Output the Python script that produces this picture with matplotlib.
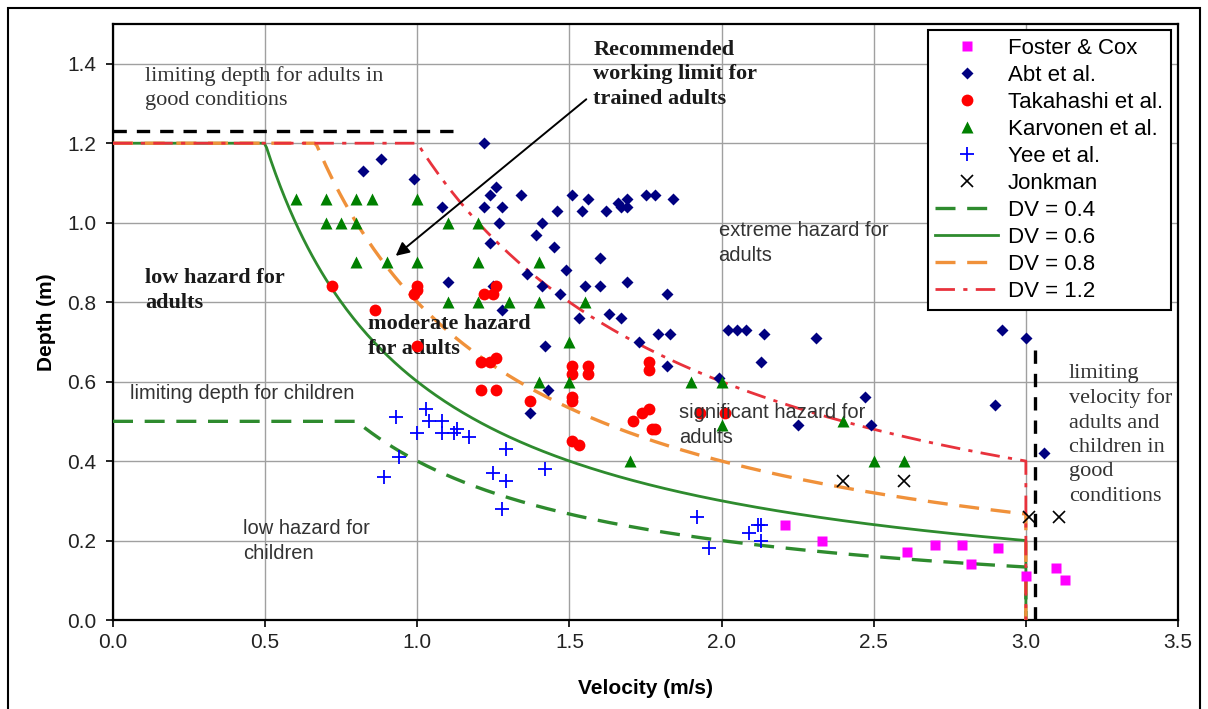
import numpy as np
import matplotlib.pyplot as plt
from matplotlib.patches import Rectangle

# --- data ---
foster_v = [2.21, 2.33, 2.61, 2.70, 2.79, 2.82, 2.91, 3.00, 3.10, 3.13]
foster_d = [0.24, 0.20, 0.17, 0.19, 0.19, 0.14, 0.18, 0.11, 0.13, 0.10]

abt_v = [1.22, 0.88, 0.82, 0.99, 1.26, 1.24, 1.34, 1.08, 1.22, 1.28, 1.27, 1.41,
         1.39, 1.24, 1.10, 1.25, 1.36, 1.41, 1.28, 1.51, 1.56, 1.46, 1.54, 1.62,
         1.69, 1.67, 1.69, 1.66, 1.75, 1.78, 1.84, 1.45, 1.60, 1.49, 1.55, 1.60,
         1.69, 1.82, 1.47, 1.53, 1.63, 1.67, 1.73, 1.79, 1.83, 1.82, 1.99, 2.02,
         2.05, 2.08, 2.14, 2.13, 2.31, 2.47, 2.25, 2.49, 1.42, 1.43, 1.37, 2.92,
         3.00, 2.90, 3.06]
abt_d = [1.20, 1.16, 1.13, 1.11, 1.09, 1.07, 1.07, 1.04, 1.04, 1.04, 1.00, 1.00,
         0.97, 0.95, 0.85, 0.84, 0.87, 0.84, 0.78, 1.07, 1.06, 1.03, 1.03, 1.03,
         1.06, 1.04, 1.04, 1.05, 1.07, 1.07, 1.06, 0.94, 0.91, 0.88, 0.84, 0.84,
         0.85, 0.82, 0.82, 0.76, 0.77, 0.76, 0.70, 0.72, 0.72, 0.64, 0.61, 0.73,
         0.73, 0.73, 0.72, 0.65, 0.71, 0.56, 0.49, 0.49, 0.69, 0.58, 0.52, 0.73,
         0.71, 0.54, 0.42]

taka_v = [0.72, 0.86, 1.00, 1.00, 0.99, 1.22, 1.25, 1.26, 1.00, 1.21, 1.24, 1.26,
          1.21, 1.26, 1.37, 1.51, 1.51, 1.56, 1.56, 1.51, 1.51, 1.51, 1.53, 1.76,
          1.76, 1.76, 1.74, 1.71, 1.77, 1.78, 1.93, 2.01]
taka_d = [0.84, 0.78, 0.84, 0.83, 0.82, 0.82, 0.82, 0.84, 0.69, 0.65, 0.65, 0.66,
          0.58, 0.58, 0.55, 0.64, 0.62, 0.64, 0.62, 0.56, 0.55, 0.45, 0.44, 0.65,
          0.63, 0.53, 0.52, 0.50, 0.48, 0.48, 0.52, 0.52]

karv_v = [0.60, 0.70, 0.80, 0.85, 1.00, 0.70, 0.75, 0.80, 1.10, 1.20, 0.80, 0.90,
          1.00, 1.20, 1.40, 1.10, 1.20, 1.30, 1.40, 1.55, 1.50, 1.40, 1.50, 1.90,
          2.00, 2.00, 2.40, 1.70, 2.50, 2.60]
karv_d = [1.06, 1.06, 1.06, 1.06, 1.06, 1.00, 1.00, 1.00, 1.00, 1.00, 0.90, 0.90,
          0.90, 0.90, 0.90, 0.80, 0.80, 0.80, 0.80, 0.80, 0.70, 0.60, 0.60, 0.60,
          0.60, 0.49, 0.50, 0.40, 0.40, 0.40]

yee_v = [0.93, 1.03, 1.04, 1.08, 1.00, 1.08, 1.12, 1.13, 1.17, 0.94, 0.89, 1.29,
         1.25, 1.29, 1.28, 1.42, 1.92, 1.96, 2.09, 2.12, 2.13, 2.13]
yee_d = [0.51, 0.53, 0.50, 0.50, 0.47, 0.47, 0.47, 0.48, 0.46, 0.41, 0.36, 0.43,
         0.37, 0.35, 0.28, 0.38, 0.26, 0.18, 0.22, 0.24, 0.24, 0.20]

jonk_v = [2.40, 2.60, 3.01, 3.11]
jonk_d = [0.35, 0.35, 0.26, 0.26]

dv_values = [0.4, 0.6, 0.8, 1.2]
dv_caps = [0.5, 1.2, 1.2, 1.2]
dv_labels = ['DV = 0.4', 'DV = 0.6', 'DV = 0.8', 'DV = 1.2']
v_max = 3.0

fig = plt.figure(figsize=(12.08, 7.09), dpi=100)
ax = fig.add_axes([113 / 1208, 1 - 620 / 709, 1065 / 1208, 596 / 709])

# outer frame around the whole figure
fig.patches.append(Rectangle((8 / 1208, -0.05), 1192 / 1208, 1.05 - 8 / 709,
                             transform=fig.transFigure, fill=False,
                             ec='black', lw=1.5))

ax.set_xlim(0, 3.5)
ax.set_ylim(0, 1.5)
ax.set_xticks(np.arange(0, 3.51, 0.5))
ax.set_yticks(np.arange(0, 1.41, 0.2))
ax.xaxis.set_major_formatter(plt.FormatStrFormatter('%.1f'))
ax.yaxis.set_major_formatter(plt.FormatStrFormatter('%.1f'))
ax.grid(True, color='#a0a0a0', lw=1)
ax.set_axisbelow(True)
for s in ax.spines.values():
    s.set_linewidth(1.6)
ax.tick_params(labelsize=15, labelcolor='#222222', length=5, width=1.2)
ax.tick_params(axis='x', pad=4)
ax.tick_params(axis='y', pad=7)
for lab in ax.get_xticklabels() + ax.get_yticklabels():
    lab.set_family('Liberation Sans')
ax.set_xlabel('Velocity (m/s)', fontsize=15, fontweight='bold',
              family='Liberation Sans', labelpad=20)
ax.set_ylabel('Depth (m)', fontsize=15, fontweight='bold',
              family='Liberation Sans', labelpad=8)

# DV curves
styles = [dict(color='#2e8b2e', ls=(0, (6, 3.5)), lw=2.4),
          dict(color='#2e8b2e', ls='-', lw=2.0),
          dict(color='#f0913a', ls=(0, (6, 3.5)), lw=2.4),
          dict(color='#e8323c', ls=(0, (7, 3, 1.5, 3)), lw=2.0)]
dv_handles = []
for dv, cap, lab, st in zip(dv_values, dv_caps, dv_labels, styles):
    v = np.linspace(0.001, v_max, 400)
    d = np.minimum(cap, dv / v)
    v = np.concatenate([[0.0], v, [v_max]])
    d = np.concatenate([[cap], d, [0.0]])
    h, = ax.plot(v, d, label=lab, zorder=3, **st)
    dv_handles.append(h)

# limiting lines
ax.plot([0, 1.15], [1.23, 1.23], color='black', lw=2.4, ls=(0, (4, 3)), zorder=3)
ax.plot([3.03, 3.03], [0, 0.68], color='black', lw=2.4, ls=(0, (4, 3)), zorder=3)

# observations
pts = []
pts += ax.plot(foster_v, foster_d, 's', color='#ff00ff', ms=7.5, mec='none',
               label='Foster & Cox', zorder=4)
pts += ax.plot(abt_v, abt_d, 'D', color='#000080', ms=6, mec='none',
               label='Abt et al.', zorder=4)
pts += ax.plot(taka_v, taka_d, 'o', color='#ff0000', ms=8.5, mec='none',
               label='Takahashi et al.', zorder=4)
pts += ax.plot(karv_v, karv_d, '^', color='#008000', ms=8, mec='none',
               label='Karvonen et al.', zorder=4)
pts += ax.plot(yee_v, yee_d, '+', color='#0000ff', ms=10, mew=1.3,
               label='Yee et al.', zorder=4)
pts += ax.plot(jonk_v, jonk_d, 'x', color='black', ms=8, mew=1.2,
               label='Jonkman', zorder=4)

# annotations
serif = 'Liberation Serif'
sans = 'Liberation Sans'
ax.text(0.105, 1.395, 'limiting depth for adults in\ngood conditions', family=serif,
        fontsize=16, color='#333333', va='top', linespacing=1.35)
ax.text(1.579, 1.46, 'Recommended\nworking limit for\ntrained adults', family=serif,
        fontsize=16, fontweight='bold', color='#1a1a1a', va='top', linespacing=1.3)
ax.annotate('', xy=(0.922, 0.912), xytext=(1.5625, 1.315),
            arrowprops=dict(arrowstyle='-|>', color='black', lw=1.4,
                            mutation_scale=20))
ax.text(1.99, 1.005, 'extreme hazard for\nadults', family=sans, fontsize=14.5,
        color='#333333', va='top', linespacing=1.4)
ax.text(0.105, 0.885, 'low hazard for\nadults', family=serif, fontsize=16,
        fontweight='bold', color='#1a1a1a', va='top', linespacing=1.3)
ax.text(0.839, 0.77, 'moderate hazard\nfor adults', family=serif, fontsize=16,
        fontweight='bold', color='#1a1a1a', va='top', linespacing=1.3)
ax.text(0.056, 0.594, 'limiting depth for children', family=sans, fontsize=14.5,
        color='#333333', va='top')
ax.text(1.859, 0.545, 'significant hazard for\nadults', family=sans, fontsize=14.5,
        color='#333333', va='top', linespacing=1.4, zorder=5)
ax.text(0.428, 0.255, 'low hazard for\nchildren', family=sans, fontsize=14.5,
        color='#333333', va='top', linespacing=1.4)
ax.text(3.141, 0.645, 'limiting\nvelocity for\nadults and\nchildren in\ngood\nconditions',
        family=serif, fontsize=16, color='#333333', va='top', linespacing=1.38)

leg = ax.legend(handles=pts + dv_handles, loc='upper right',
                bbox_to_anchor=(0.993, 0.99), prop={'family': sans, 'size': 16},
                frameon=True, fancybox=False, edgecolor='black', framealpha=1,
                handlelength=2.8, labelspacing=0.27, borderpad=0.35,
                handletextpad=0.45, borderaxespad=0)
leg.get_frame().set_linewidth(1.5)

plt.savefig('out.png', dpi=100)
